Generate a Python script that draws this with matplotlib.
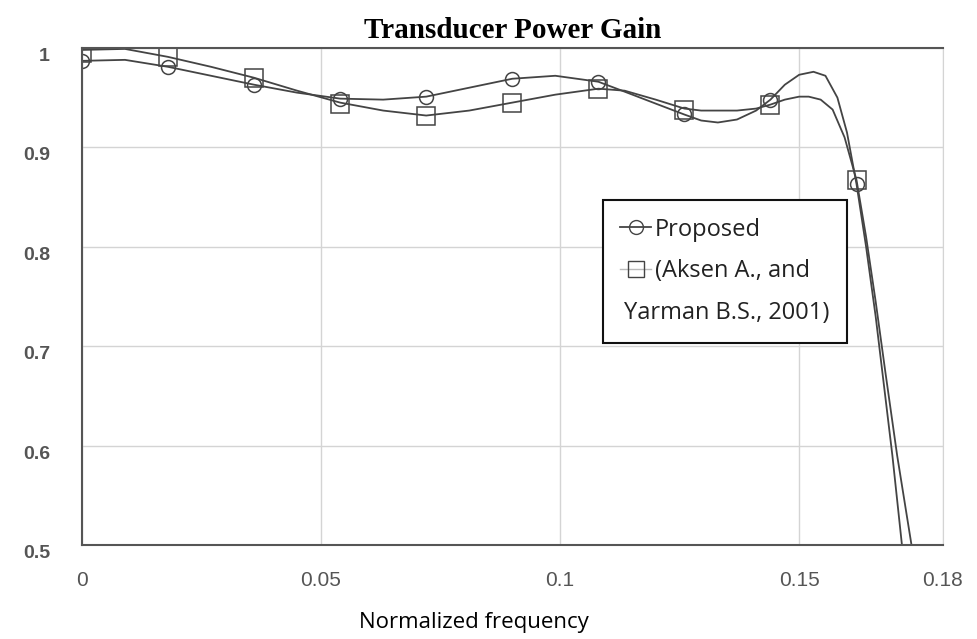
"""
Transducer Power Gain: proposed vs (Aksen A., and Yarman B.S., 2001)
"""

import matplotlib
matplotlib.use('Agg')
import matplotlib.pyplot as plt
from matplotlib.lines import Line2D

# marker positions (normalized frequency)
x_mark = [0, 0.018, 0.036, 0.054, 0.072, 0.09, 0.108, 0.126, 0.144, 0.162]
prop_mark = [0.987, 0.981, 0.963, 0.949, 0.951, 0.969, 0.966, 0.934, 0.948, 0.863]
aksen_mark = [0.995, 0.991, 0.970, 0.944, 0.932, 0.945, 0.959, 0.938, 0.943, 0.867]

# smooth curves
x_prop = [0, 0.009, 0.018, 0.027, 0.036, 0.045, 0.054, 0.063, 0.072, 0.081, 0.09,
          0.099, 0.108, 0.1135, 0.12, 0.126, 0.1295, 0.133, 0.137, 0.141, 0.144,
          0.147, 0.150, 0.153, 0.1555, 0.158, 0.160, 0.162, 0.164, 0.166, 0.168,
          0.1695, 0.1715]
y_prop = [0.987, 0.988, 0.981, 0.972, 0.963, 0.955, 0.949, 0.948, 0.951, 0.960, 0.969,
          0.972, 0.966, 0.956, 0.944, 0.933, 0.927, 0.925, 0.928, 0.937, 0.948,
          0.963, 0.973, 0.976, 0.972, 0.950, 0.915, 0.863, 0.800, 0.730, 0.650,
          0.590, 0.500]

x_aksen = [0, 0.009, 0.018, 0.027, 0.036, 0.045, 0.054, 0.063, 0.072, 0.081, 0.09,
           0.099, 0.108, 0.1135, 0.12, 0.126, 0.1295, 0.133, 0.137, 0.141, 0.144,
           0.147, 0.150, 0.152, 0.1545, 0.157, 0.1595, 0.162, 0.164, 0.166, 0.168,
           0.1705, 0.1735]
y_aksen = [0.998, 0.999, 0.991, 0.981, 0.970, 0.957, 0.945, 0.937, 0.932, 0.937, 0.945,
           0.953, 0.959, 0.957, 0.948, 0.939, 0.937, 0.937, 0.937, 0.939, 0.943,
           0.948, 0.951, 0.951, 0.948, 0.938, 0.910, 0.867, 0.810, 0.745, 0.675,
           0.590, 0.500]

xticks = [0, 0.05, 0.1, 0.15, 0.18]
xticklabels = ['0', '0.05', '0.1', '0.15', '0.18']
yticks = [0.5, 0.6, 0.7, 0.8, 0.9, 1.0]
yticklabels = ['0.5', '0.6', '0.7', '0.8', '0.9', '1']

col = '#444444'

fig = plt.figure(figsize=(9.78, 6.39), dpi=100)
ax = fig.add_axes([0.0838, 0.147, 0.880, 0.778])

ax.plot(x_prop, y_prop, color=col, lw=1.3)
ax.plot(x_aksen, y_aksen, color=col, lw=1.3)
ax.plot(x_mark, prop_mark, ls='none', marker='o', ms=10, mfc='none', mec=col, mew=1.1)
ax.plot(x_mark, aksen_mark, ls='none', marker='s', ms=13, mfc='none', mec=col, mew=1.1)

ax.set_xlim(0, 0.18)
ax.set_ylim(0.5, 1.0)
ax.set_xticks(xticks)
ax.set_xticklabels(xticklabels, family='Liberation Sans', fontsize=15, color='#555555')
ax.set_yticks(yticks)
ax.set_yticklabels(yticklabels, family='Liberation Sans', fontsize=14, color='#555555',
                   fontweight='bold', va='top')
ax.tick_params(length=0)
ax.tick_params(axis='x', pad=19)
ax.tick_params(axis='y', pad=23)
ax.grid(True, color='#d4d4d4', lw=1.0)
ax.set_axisbelow(True)

for s in ['left', 'bottom', 'top']:
    ax.spines[s].set_color('#555555')
    ax.spines[s].set_linewidth(1.5)
ax.spines['right'].set_color('#d4d4d4')

ax.set_title('Transducer Power Gain', family='Liberation Serif', fontweight='bold',
             fontsize=21, pad=7)
ax.set_xlabel('Normalized frequency', family='Open Sans', fontsize=16)
ax.xaxis.set_label_coords(0.455, -0.135)

# legend (second label split over two rows, square on the first)
h1 = Line2D([], [], color=col, lw=1.3, marker='o', ms=10, mfc='none', mec=col)
h2 = Line2D([], [], color='#bbbbbb', lw=1.0, marker='s', ms=12, mfc='none', mec=col)
h3 = Line2D([], [], ls='none')
leg = ax.legend([h1, h2, h3], ['Proposed', '(Aksen A., and', 'Yarman B.S., 2001)'],
                loc='upper left', bbox_to_anchor=(0.605, 0.694),
                prop={'family': 'Open Sans', 'size': 17},
                fancybox=False, framealpha=1, edgecolor='#111111',
                handlelength=1.3, handletextpad=0.15, borderpad=0.75,
                borderaxespad=0, labelspacing=0.75)
leg.get_frame().set_linewidth(1.5)
for t in leg.get_texts():
    t.set_color('#222222')
# third row text starts at the left edge, as in the picture
leg._legend_handle_box.get_children()[0].get_children()[2].get_children()[0].set_width(0)

fig.savefig('out.png')
